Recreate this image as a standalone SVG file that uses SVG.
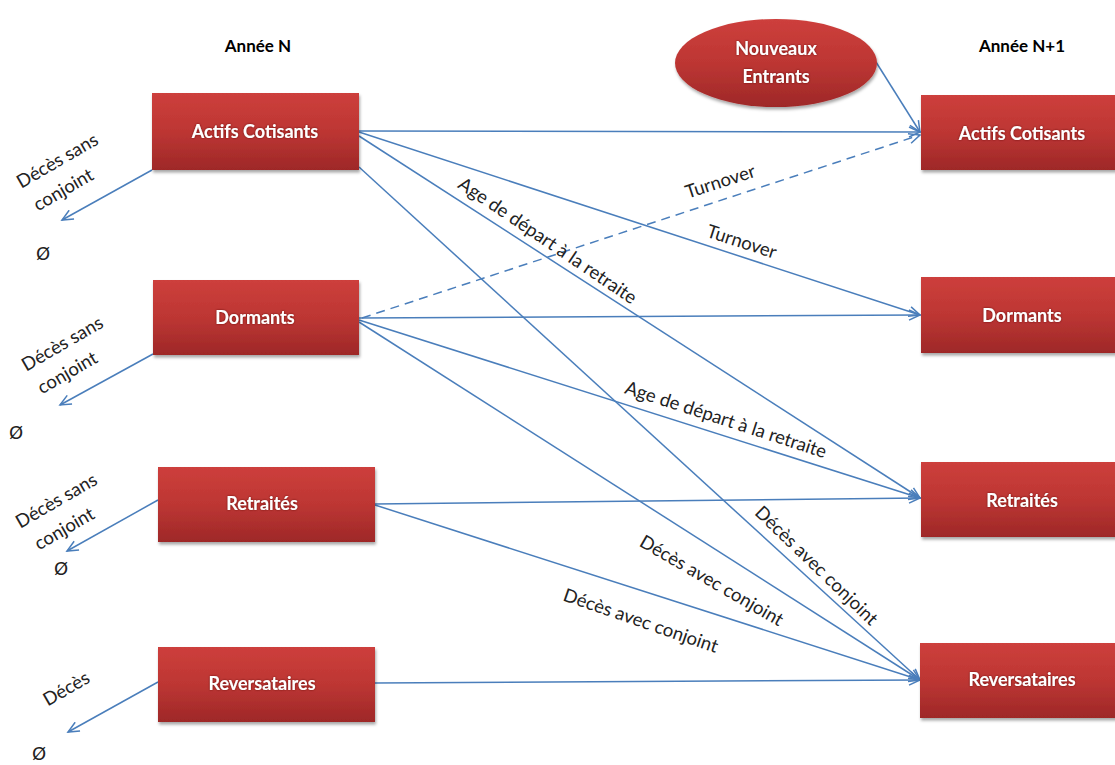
<svg xmlns="http://www.w3.org/2000/svg" width="1115" height="765" viewBox="0 0 1115 765">
<style>
.box{fill:url(#red);}
.nt{font-family:Lato,"Open Sans",sans-serif;font-weight:bold;font-size:18px;fill:#ffffff;text-anchor:middle;dominant-baseline:central;}
.hd{font-family:Lato,"Open Sans",sans-serif;font-weight:bold;font-size:17px;fill:#000;text-anchor:middle;dominant-baseline:central;}
.lb{font-family:Lato,"Open Sans",sans-serif;font-size:18.5px;fill:#222;text-anchor:middle;dominant-baseline:central;}
.phi{font-family:"DejaVu Sans",sans-serif;font-size:18px;fill:#222;text-anchor:middle;dominant-baseline:central;}
.c{stroke:#4a7ebb;stroke-width:1.5;fill:none;marker-end:url(#ar);}
.d{stroke-dasharray:9 6;}
</style>
<defs>
<linearGradient id="red" x1="0" y1="0" x2="0" y2="1">
<stop offset="0" stop-color="#cd3f3c"/>
<stop offset="0.5" stop-color="#bd3633"/>
<stop offset="1" stop-color="#9e2828"/>
</linearGradient>
<filter id="sh" x="-10%" y="-10%" width="125%" height="130%">
<feDropShadow dx="1" dy="2.5" stdDeviation="1.8" flood-color="#000" flood-opacity="0.35"/>
</filter>
<filter id="ts" x="-10%" y="-20%" width="120%" height="140%">
<feDropShadow dx="0" dy="0" stdDeviation="0.8" flood-color="#5a1010" flood-opacity="0.8"/>
</filter>
<marker id="ar" markerUnits="userSpaceOnUse" markerWidth="14" markerHeight="12" refX="12" refY="6" orient="auto">
<path d="M1,1 L12,6 L1,11" fill="none" stroke="#4a7ebb" stroke-width="1.5"/>
</marker>
</defs>
<rect width="1115" height="765" fill="#ffffff"/>

<g id="headers">
<text class="hd" x="258" y="45">Année N</text>
<text class="hd" x="1022" y="45">Année N+1</text>
</g>

<g id="connectors">
<line class="c" x1="152" y1="170" x2="62" y2="220"/>
<line class="c" x1="153" y1="354" x2="60" y2="405"/>
<line class="c" x1="158" y1="500" x2="67" y2="551"/>
<line class="c" x1="158" y1="682" x2="68" y2="732"/>
<line class="c" x1="876" y1="62" x2="920" y2="132"/>
<line class="c" x1="359" y1="131" x2="920" y2="132"/>
<line class="c" x1="359" y1="132" x2="920" y2="315"/>
<line class="c" x1="359" y1="136" x2="920" y2="498"/>
<line class="c" x1="359" y1="167" x2="920" y2="680"/>
<line class="c d" x1="362" y1="318" x2="920" y2="135"/>
<line class="c" x1="359" y1="318" x2="920" y2="315"/>
<line class="c" x1="359" y1="320" x2="920" y2="498"/>
<line class="c" x1="359" y1="322" x2="920" y2="680"/>
<line class="c" x1="375" y1="504" x2="920" y2="498"/>
<line class="c" x1="375" y1="505" x2="920" y2="680"/>
<line class="c" x1="375" y1="683" x2="920" y2="680"/>
</g>

<g id="labels">
<text class="lb" transform="translate(57,160) rotate(-30)">Décès sans</text>
<text class="lb" transform="translate(63,189) rotate(-30)">conjoint</text>
<text class="lb" transform="translate(62,343) rotate(-30)">Décès sans</text>
<text class="lb" transform="translate(67,372) rotate(-30)">conjoint</text>
<text class="lb" transform="translate(56,500) rotate(-30)">Décès sans</text>
<text class="lb" transform="translate(64,528) rotate(-30)">conjoint</text>
<text class="lb" transform="translate(66,688) rotate(-30)">Décès</text>
<text class="phi" x="43" y="253">Ø</text>
<text class="phi" x="16" y="432">Ø</text>
<text class="phi" x="61" y="568">Ø</text>
<text class="phi" x="39" y="753">Ø</text>
<text class="lb" transform="translate(720,181) rotate(-18)">Turnover</text>
<text class="lb" transform="translate(742,241) rotate(18)">Turnover</text>
<text class="lb" transform="translate(548,240) rotate(34)">Age de départ à la retraite</text>
<text class="lb" transform="translate(726,419) rotate(18)">Age de départ à la retraite</text>
<text class="lb" transform="translate(817,565) rotate(44)">Décès avec conjoint</text>
<text class="lb" transform="translate(712,580) rotate(30)">Décès avec conjoint</text>
<text class="lb" transform="translate(641,620) rotate(19)">Décès avec conjoint</text>
</g>

<g id="n_actifs_n">
<rect class="box" x="152" y="93" width="207" height="77" filter="url(#sh)"/>
<text class="nt" x="255" y="131" filter="url(#ts)">Actifs Cotisants</text>
</g>
<g id="n_dormants_n">
<rect class="box" x="153" y="280" width="206" height="75" filter="url(#sh)"/>
<text class="nt" x="255" y="317" filter="url(#ts)">Dormants</text>
</g>
<g id="n_retraites_n">
<rect class="box" x="158" y="467" width="217" height="75" filter="url(#sh)"/>
<text class="nt" x="262" y="503" filter="url(#ts)">Retraités</text>
</g>
<g id="n_reversataires_n">
<rect class="box" x="158" y="647" width="217" height="75" filter="url(#sh)"/>
<text class="nt" x="262" y="683" filter="url(#ts)">Reversataires</text>
</g>

<g id="n_nouveaux">
<ellipse cx="776" cy="63" rx="101" ry="44" fill="url(#red)" filter="url(#sh)"/>
<text class="nt" x="776" y="48" filter="url(#ts)">Nouveaux</text>
<text class="nt" x="776" y="76" filter="url(#ts)">Entrants</text>
</g>

<g id="n_actifs_n1">
<rect class="box" x="921" y="95" width="204" height="75" filter="url(#sh)"/>
<text class="nt" x="1022" y="133" filter="url(#ts)">Actifs Cotisants</text>
</g>
<g id="n_dormants_n1">
<rect class="box" x="921" y="277" width="204" height="76" filter="url(#sh)"/>
<text class="nt" x="1022" y="315" filter="url(#ts)">Dormants</text>
</g>
<g id="n_retraites_n1">
<rect class="box" x="921" y="462" width="204" height="75" filter="url(#sh)"/>
<text class="nt" x="1022" y="500" filter="url(#ts)">Retraités</text>
</g>
<g id="n_reversataires_n1">
<rect class="box" x="920" y="643" width="205" height="75" filter="url(#sh)"/>
<text class="nt" x="1022" y="679" filter="url(#ts)">Reversataires</text>
</g>
</svg>
